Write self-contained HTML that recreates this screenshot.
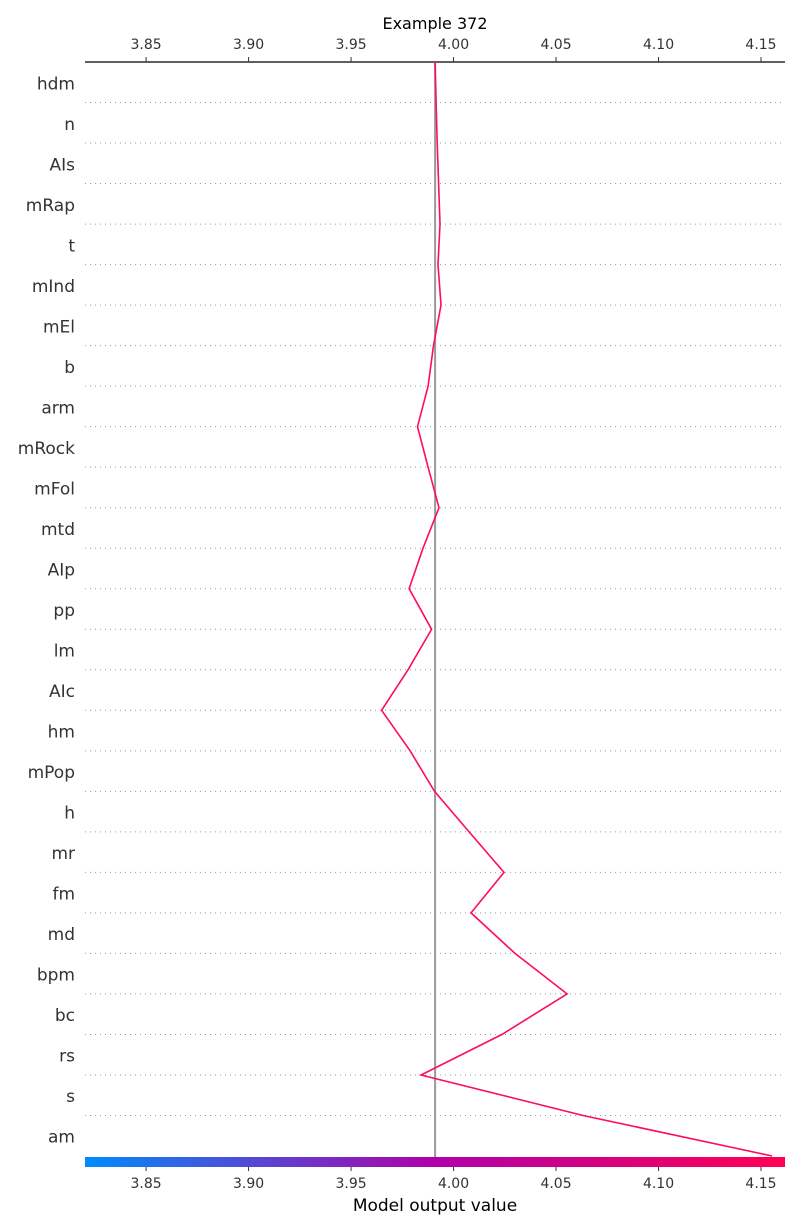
<!DOCTYPE html>
<html><head><meta charset="utf-8"><style>
body{margin:0;background:#fff;}
svg{display:block;font-family:"DejaVu Sans","Liberation Sans",sans-serif;}
</style></head><body>
<svg id="chart" width="800" height="1230"></svg>
<script>
const features=["hdm","n","AIs","mRap","t","mInd","mEl","b","arm","mRock","mFol","mtd","AIp","pp","lm","AIc","hm","mPop","h","mr","fm","md","bpm","bc","rs","s","am"];
const cumValues=[3.9910,3.9915,3.9920,3.9927,3.9934,3.9924,3.9939,3.9902,3.9876,3.9824,3.9876,3.9929,3.9851,3.9783,3.9893,3.9778,3.9649,3.9788,3.9907,4.0076,4.0246,4.0085,4.0300,4.0554,4.0237,3.9841,4.0632,4.1554];
const tickLabels=["3.85","3.90","3.95","4.00","4.05","4.10","4.15"];
const baseValue=3.991;
const title="Example 372";
const xMin=3.8202,xMax=4.1617,L=85,R=785,T=62,B=1156;
const NS="http://www.w3.org/2000/svg";
const svg=document.getElementById('chart');
const xs=v=>L+(v-xMin)/(xMax-xMin)*(R-L);
const rowH=(B-T)/features.length;
function mk(t,a,p){const e=document.createElementNS(NS,t);for(const k in a)e.setAttribute(k,a[k]);(p||svg).appendChild(e);return e;}
const defs=mk('defs',{});
const g=mk('linearGradient',{id:'cb',x1:'0',x2:'1',y1:'0',y2:'0'},defs);
[[0,'#008bfb'],[0.5,'#b000a8'],[1,'#ff0052']].forEach(s=>mk('stop',{offset:s[0],'stop-color':s[1]},g));
for(let i=1;i<features.length;i++){
  const ln=mk('line',{x1:L,x2:R,y1:T+i*rowH,y2:T+i*rowH,stroke:'#999','stroke-width':1,'stroke-dasharray':'1 4'});
  
  
}
features.forEach((f,i)=>{
  const t=mk('text',{x:75,y:T+(i+0.5)*rowH+7,'text-anchor':'end','font-size':17,fill:'#333'});
  t.textContent=f;
  
  
});
const ta=mk('line',{x1:L,x2:R,y1:T,y2:T,stroke:'#000','stroke-width':1.2});


tickLabels.forEach(l=>{
  const x=xs(parseFloat(l));
  mk('line',{x1:x,x2:x,y1:T,y2:T-5,stroke:'#333'});
  const t=mk('text',{x:x,y:T-13,'text-anchor':'middle','font-size':14,fill:'#333'});
  t.textContent=l;
  
  
  mk('line',{x1:x,x2:x,y1:B+11,y2:B+15,stroke:'#333'});
  const b=mk('text',{x:x,y:B+32,'text-anchor':'middle','font-size':14,fill:'#333'});
  b.textContent=l;
  
  
});
const tt=mk('text',{x:435,y:29,'text-anchor':'middle','font-size':16,fill:'#000'});
tt.textContent=title;


const xl=mk('text',{x:435,y:1211,'text-anchor':'middle','font-size':17,fill:'#000'});
xl.textContent='Model output value';


const bl=mk('line',{x1:xs(baseValue),x2:xs(baseValue),y1:T,y2:B+1,stroke:'#999','stroke-width':2});


const cb=mk('rect',{x:L,y:B+1,width:R-L,height:10,fill:'url(#cb)'});


const pts=cumValues.map((v,i)=>xs(v).toFixed(1)+','+(T+i*rowH).toFixed(1)).join(' ');
const pl=mk('polyline',{points:pts,fill:'none',stroke:'#ff0d57','stroke-width':1.6});


</script>
</body></html>
